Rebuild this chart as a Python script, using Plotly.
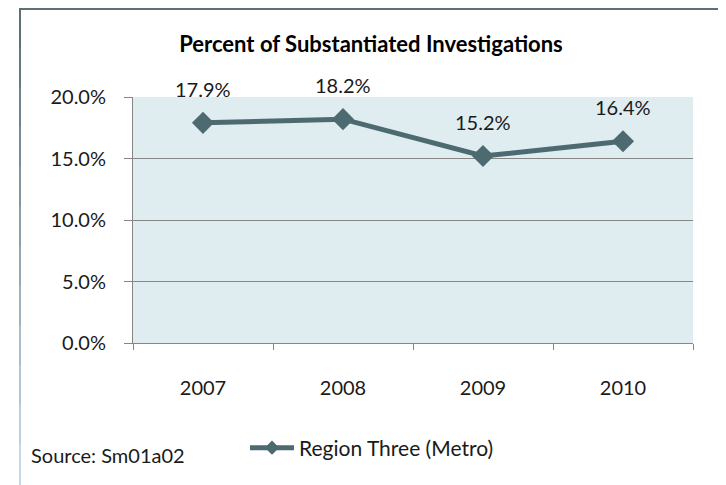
import plotly.graph_objects as go

# data
YEARS = ["2007", "2008", "2009", "2010"]
PCT = [0.179, 0.182, 0.152, 0.164]
LABELS = ["17.9%", "18.2%", "15.2%", "16.4%"]

TITLE = "<b>Percent of Substantiated Investigations</b>"
SERIES = "Region Three (Metro)"
SOURCE = "Source: Sm01a02"

LINE_COLOR = "#4D6A71"
FONT = "Lato, 'Open Sans', sans-serif"

# figure geometry (page body has an 8px margin, so figure is 718x477)
W, H = 718, 477
L, R, T, B = 125, 33, 89, 142
PW, PH = W - L - R, H - T - B


def px(x):
    return (x - L) / PW


def py(y):
    return (H - B - y) / PH


fig = go.Figure()
fig.add_trace(go.Scatter(
    x=YEARS, y=PCT,
    mode="lines+markers",
    name=SERIES, showlegend=False,
    line=dict(color=LINE_COLOR, width=5),
    marker=dict(symbol="diamond", size=17, color=LINE_COLOR),
))
# legend entry only (smaller diamond like the original key)
fig.add_trace(go.Scatter(
    x=[None], y=[None],
    mode="lines+markers",
    name=SERIES,
    line=dict(color=LINE_COLOR, width=5),
    marker=dict(symbol="diamond", size=11, color=LINE_COLOR),
))

# data labels above the points
for i, (v, lab) in enumerate(zip(PCT, LABELS)):
    fig.add_annotation(x=i, y=v, text=lab, showarrow=False,
                       yshift=34, font=dict(size=20, color="#1a1a1a"))

# source note, bottom left
fig.add_annotation(xref="paper", yref="paper", x=px(21), y=py(447),
                   xanchor="left", yanchor="middle", showarrow=False,
                   text=SOURCE, font=dict(size=20, color="#1a1a1a"))

# outer chart border: dark at the top, fading to light blue further down
x_left, x_right, y_top = 12, 714, 1
fig.add_shape(type="line", xref="paper", yref="paper",
              x0=px(x_left), x1=px(x_right), y0=py(y_top), y1=py(y_top),
              line=dict(color="#5E6F76", width=2))
c0, c1 = (94, 111, 118), (200, 214, 238)
n = 12
for k in range(n):
    t = k / (n - 1)
    col = "rgb(%d,%d,%d)" % tuple(round(a + (b - a) * t) for a, b in zip(c0, c1))
    ya = y_top + (H - y_top) * k / n
    yb = y_top + (H - y_top) * (k + 1) / n
    for xx in (x_left, x_right):
        fig.add_shape(type="line", xref="paper", yref="paper",
                      x0=px(xx), x1=px(xx), y0=py(ya - 1), y1=py(yb),
                      line=dict(color=col, width=2))

fig.update_layout(
    width=W, height=H,
    margin=dict(l=L, r=R, t=T, b=B),
    paper_bgcolor="white",
    plot_bgcolor="#DFECF0",
    font=dict(family=FONT, size=20, color="#1a1a1a"),
    title=dict(text=TITLE, xref="container", x=363 / W, xanchor="center",
               yref="container", y=1 - 36 / H, yanchor="middle",
               font=dict(size=22, color="#000000"), automargin=False),
    showlegend=True,
    legend=dict(orientation="h", xref="container", yref="container",
                x=237 / W, y=1 - 440 / H, xanchor="left", yanchor="middle",
                font=dict(size=21), bgcolor="rgba(0,0,0,0)",
                itemwidth=44),
    xaxis=dict(
        type="category", tickson="boundaries", range=[-0.5, 3.5],
        ticks="outside", ticklen=6, tickcolor="#868686",
        showline=True, linecolor="#868686", linewidth=1,
        showgrid=False, ticklabelstandoff=27, automargin=False,
        tickangle=0,
    ),
    yaxis=dict(
        range=[0, 0.2], dtick=0.05, tickformat=".1%",
        ticks="outside", ticklen=8, tickcolor="#868686",
        showline=True, linecolor="#868686", linewidth=1,
        showgrid=True, gridcolor="#868686", gridwidth=1,
        zeroline=False, ticklabelstandoff=14, automargin=False,
    ),
)

fig.write_html("out.html")
